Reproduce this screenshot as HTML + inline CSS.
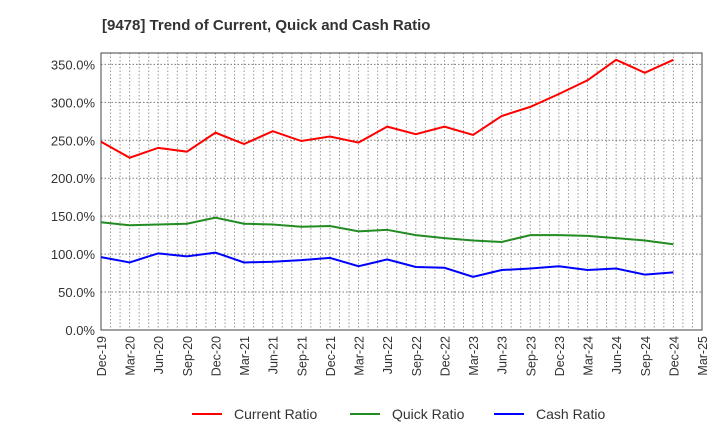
<!DOCTYPE html>
<html><head><meta charset="utf-8"><style>
body{margin:0;background:#fff;font-family:"Liberation Sans",sans-serif;}
</style></head><body>
<svg id="c" width="720" height="440" xmlns="http://www.w3.org/2000/svg">
<text x="102" y="30" font-size="15" font-weight="bold" fill="#333">[9478]  Trend of Current, Quick and Cash Ratio</text>
<g id="grid"></g><g id="axes"></g><g id="series"></g>
<g>
<line x1="192" y1="414" x2="222" y2="414" stroke="#f00" stroke-width="2"/>
<text x="234" y="419" font-size="14" fill="#333">Current Ratio</text>
<line x1="350" y1="414" x2="380" y2="414" stroke="#228b22" stroke-width="2"/>
<text x="392" y="419" font-size="14" fill="#333">Quick Ratio</text>
<line x1="494" y1="414" x2="524" y2="414" stroke="#00f" stroke-width="2"/>
<text x="536" y="419" font-size="14" fill="#333">Cash Ratio</text>
</g>
</svg>
<script>
const categories=["Dec-19","Mar-20","Jun-20","Sep-20","Dec-20","Mar-21","Jun-21","Sep-21","Dec-21","Mar-22","Jun-22","Sep-22","Dec-22","Mar-23","Jun-23","Sep-23","Dec-23","Mar-24","Jun-24","Sep-24","Dec-24","Mar-25"];
const currentRatio=[248,227,240,235,260,245,262,249,255,247,268,258,268,257,282,294,311,329,356,339,356];
const quickRatio=[142,138,139,140,148,140,139,136,137,130,132,125,121,118,116,125,125,124,121,118,113];
const cashRatio=[96,89,101,97,102,89,90,92,95,84,93,83,82,70,79,81,84,79,81,73,76];
const yTicks=[0,50,100,150,200,250,300,350];
const L=101,R=702,T=53,B=330,YMAX=365;
const NS="http://www.w3.org/2000/svg";
const x=i=>L+i*(R-L)/(categories.length-1);
const y=v=>B-v*(B-T)/YMAX;
function mk(tag,attrs,parent){const e=document.createElementNS(NS,tag);for(const k in attrs)e.setAttribute(k,attrs[k]);parent.appendChild(e);return e;}
const grid=document.getElementById('grid'),axes=document.getElementById('axes'),ser=document.getElementById('series');
for(let m=1;m<(categories.length-1)*3;m++){const gx=L+m*(R-L)/((categories.length-1)*3);
const g=mk('line',{x1:gx,x2:gx,y1:T,y2:B,stroke:'#999','stroke-dasharray':'1.5,2','stroke-width':1},grid);

}
yTicks.forEach(t=>{const g=mk('line',{x1:L,x2:R,y1:y(t),y2:y(t),stroke:'#777','stroke-dasharray':'1.5,2','stroke-width':1},grid);


const tx=mk('text',{x:L-6,y:y(t)+5,'font-size':13,fill:'#333','text-anchor':'end'},axes);tx.textContent=t.toFixed(1)+'%';

});
const fr=mk('rect',{x:L,y:T,width:R-L,height:B-T,fill:'none',stroke:'#444','stroke-width':1},axes);


categories.forEach((c,i)=>{const tx=mk('text',{transform:`translate(${x(i)+5},${B+6}) rotate(-90)`,'font-size':12.5,fill:'#333','text-anchor':'end'},axes);tx.textContent=c;

});
[[currentRatio,'#f00','current-ratio-line'],[quickRatio,'#228b22','quick-ratio-line'],[cashRatio,'#00f','cash-ratio-line']].forEach(([d,col,n])=>{
const p=mk('polyline',{points:d.map((v,i)=>x(i)+','+y(v)).join(' '),fill:'none',stroke:col,'stroke-width':2},ser);

});
</script>
</body></html>
